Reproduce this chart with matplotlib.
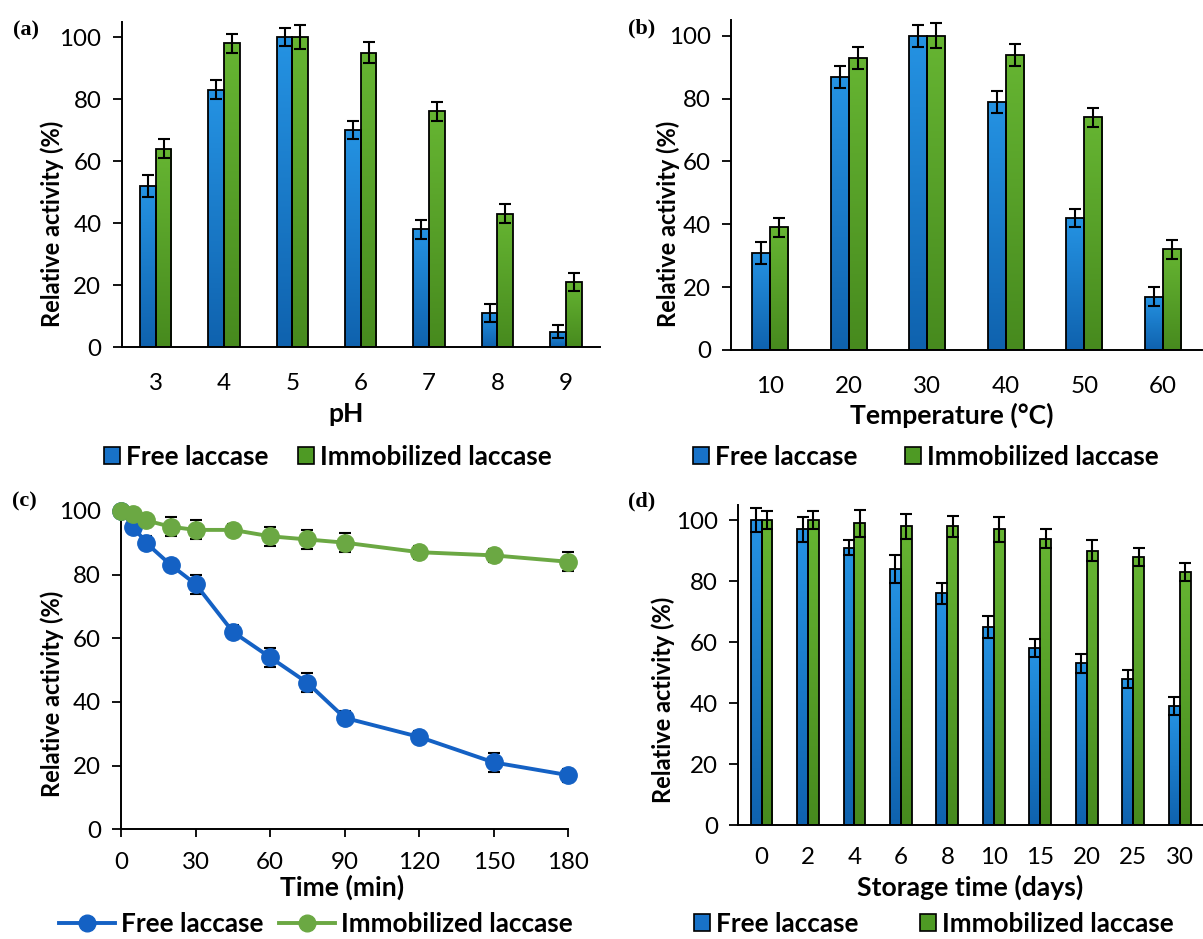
import numpy as np
import matplotlib
matplotlib.use("Agg")
import matplotlib.pyplot as plt
from matplotlib.patches import Patch
from matplotlib.lines import Line2D
from matplotlib.colors import LinearSegmentedColormap

plt.rcParams["font.family"] = ["Lato", "DejaVu Sans"]

# ------------------------------------------------------------
# data
# ------------------------------------------------------------
ph_cats = ["3", "4", "5", "6", "7", "8", "9"]
ph_free = [52, 83, 100, 70, 38, 11, 5]
ph_free_err = [3.5, 3, 3, 3, 3, 3, 2]
ph_imm = [64, 98, 100, 95, 76, 43, 21]
ph_imm_err = [3, 3, 4, 3.5, 3, 3, 3]

temp_cats = ["10", "20", "30", "40", "50", "60"]
temp_free = [31, 87, 100, 79, 42, 17]
temp_free_err = [3.5, 3.5, 3.5, 3.5, 3, 3]
temp_imm = [39, 93, 100, 94, 74, 32]
temp_imm_err = [3, 3.5, 4, 3.5, 3, 3]

time_min = [0, 5, 10, 20, 30, 45, 60, 75, 90, 120, 150, 180]
time_free = [100, 95, 90, 83, 77, 62, 54, 46, 35, 29, 21, 17]
time_free_err = [1, 2, 2, 2, 3, 2, 3, 3, 2, 2, 3, 2]
time_imm = [100, 99, 97, 95, 94, 94, 92, 91, 90, 87, 86, 84]
time_imm_err = [1, 2, 2, 3, 3, 2, 3, 3, 3, 2, 2, 3]

store_cats = ["0", "2", "4", "6", "8", "10", "15", "20", "25", "30"]
store_free = [100, 97, 91, 84, 76, 65, 58, 53, 48, 39]
store_free_err = [4, 4, 2.5, 4.5, 3.5, 3.5, 3, 3, 3, 3]
store_imm = [100, 100, 99, 98, 98, 97, 94, 90, 88, 83]
store_imm_err = [3, 3, 4.5, 4, 3.5, 4, 3, 3.5, 3, 3]

# ------------------------------------------------------------
# style
# ------------------------------------------------------------
W, H = 1203, 939
BLUE_TOP, BLUE_BOT = "#2593E3", "#0F62AE"
GREEN_TOP, GREEN_BOT = "#66B532", "#478A1E"
BLUE_LEG = "#1872C8"
GREEN_LEG = "#4E9A24"
LINE_BLUE = "#1461C4"
LINE_GREEN = "#6BA843"

fig = plt.figure(figsize=(W / 100, H / 100), dpi=100)
renderer = fig.canvas.get_renderer()


def fit_fs(s, target_px, **kw):
    # font size (pt) that makes the string about target_px wide
    t = fig.text(0, 0, s, fontsize=20, **kw)
    w = t.get_window_extent(renderer).width
    t.remove()
    return 20 * target_px / w


TICK_FS = fit_fs("100", 42)
LEG_FS = fit_fs("Immobilized laccase", 232, fontweight="bold")
XLAB_FS = fit_fs("Storage time (days)", 226, fontweight="bold")
YLAB_FS = 0.84 * fit_fs("Relative activity (%)", 246, fontweight="bold")
LEG_PX = LEG_FS * 100 / 72


def add_ax(left, top, right, bottom):
    return fig.add_axes([left / W, 1 - bottom / H, (right - left) / W, (bottom - top) / H])


def fig_text(x, y, s, **kw):
    fig.text(x / W, 1 - y / H, s, **kw)


def xlabel(x, y, s):
    fig_text(x, y, s, fontsize=XLAB_FS, fontweight="bold", ha="center", va="center")


def ylabel(x, y):
    fig_text(x, y, "Relative activity (%)", fontsize=YLAB_FS, fontweight="bold",
             rotation=90, ha="center", va="center")


def style_axes(ax):
    for side in ["top", "right"]:
        ax.spines[side].set_visible(False)
    for side in ["left", "bottom"]:
        ax.spines[side].set_linewidth(1.4)
    ax.tick_params(axis="y", length=6.5, width=1.3, pad=8, labelsize=TICK_FS)


def shade(ax, bars, top, bottom):
    cmap = LinearSegmentedColormap.from_list("shade", [bottom, top])
    grad = np.linspace(0, 1, 128).reshape(-1, 1)
    for b in bars:
        x0, y0 = b.get_xy()
        im = ax.imshow(grad, extent=[x0, x0 + b.get_width(), y0, y0 + b.get_height()],
                       origin="lower", aspect="auto", cmap=cmap, zorder=2.5)
        im.set_clip_path(b)


def bar_panel(ax, cats, free, free_err, imm, imm_err, width=0.23, pad=19):
    x = np.arange(len(cats))
    ekw = dict(ecolor="k", elinewidth=1.5, capsize=4, capthick=1.5, zorder=4)
    b1 = ax.bar(x - width / 2, free, width, facecolor="none", edgecolor="k", linewidth=1.3,
                yerr=free_err, error_kw=ekw, zorder=3)
    b2 = ax.bar(x + width / 2, imm, width, facecolor="none", edgecolor="k", linewidth=1.3,
                yerr=imm_err, error_kw=ekw, zorder=3)
    shade(ax, b1, BLUE_TOP, BLUE_BOT)
    shade(ax, b2, GREEN_TOP, GREEN_BOT)
    ax.set_xlim(-0.5, len(cats) - 0.5)
    ax.set_ylim(0, 105)
    ax.set_yticks(range(0, 101, 20))
    ax.set_xticks(x, cats)
    style_axes(ax)
    ax.tick_params(axis="x", length=0, pad=pad, labelsize=TICK_FS)


def bar_legend(cx, cy, gap):
    handles = [
        Patch(facecolor=BLUE_LEG, edgecolor="k", linewidth=1.2, label="Free laccase"),
        Patch(facecolor=GREEN_LEG, edgecolor="k", linewidth=1.2, label="Immobilized laccase"),
    ]
    fig.legend(handles=handles, loc="center", bbox_to_anchor=(cx / W, 1 - cy / H),
               ncol=2, frameon=False, prop={"weight": "bold", "size": LEG_FS},
               handlelength=16 / LEG_PX, handleheight=16 / LEG_PX,
               handletextpad=6 / LEG_PX, columnspacing=gap / LEG_PX,
               borderaxespad=0, borderpad=0)


# ------------------------------------------------------------
# (a) pH
# ------------------------------------------------------------
ax_a = add_ax(121.5, 21.5, 600, 347)
bar_panel(ax_a, ph_cats, ph_free, ph_free_err, ph_imm, ph_imm_err)
xlabel(346, 414, "pH")
ylabel(52, 224)
bar_legend(328, 457, 30)

# ------------------------------------------------------------
# (b) temperature
# ------------------------------------------------------------
ax_b = add_ax(731, 20, 1202, 350)
bar_panel(ax_b, temp_cats, temp_free, temp_free_err, temp_imm, temp_imm_err)
xlabel(952, 415, "Temperature (°C)")
ylabel(668, 224)
bar_legend(926, 457, 48)

# ------------------------------------------------------------
# (c) thermal stability over time
# ------------------------------------------------------------
ax_c = add_ax(121, 510.8, 568.3, 829.3)
ax_c.errorbar(time_min, time_free, yerr=time_free_err, fmt="none", ecolor="k",
              elinewidth=1.5, capsize=4, capthick=1.5, zorder=2, clip_on=False)
ax_c.errorbar(time_min, time_imm, yerr=time_imm_err, fmt="none", ecolor="k",
              elinewidth=1.5, capsize=4, capthick=1.5, zorder=2, clip_on=False)
ax_c.plot(time_min, time_free, color=LINE_BLUE, marker="o", ms=12.5, lw=2.8,
          zorder=3, clip_on=False)
ax_c.plot(time_min, time_imm, color=LINE_GREEN, marker="o", ms=12.5, lw=2.8,
          zorder=4, clip_on=False)
ax_c.set_xlim(0, 180)
ax_c.set_ylim(0, 100)
ax_c.set_xticks(range(0, 181, 30))
ax_c.set_yticks(range(0, 101, 20))
style_axes(ax_c)
ax_c.tick_params(axis="x", length=5.5, width=1.3, pad=11, labelsize=TICK_FS)
xlabel(342, 887, "Time (min)")
ylabel(52, 694)
line_handles = [
    Line2D([], [], color=LINE_BLUE, marker="o", ms=12, lw=2.8, label="Free laccase"),
    Line2D([], [], color=LINE_GREEN, marker="o", ms=12, lw=2.8, label="Immobilized laccase"),
]
fig.legend(handles=line_handles, loc="center", bbox_to_anchor=(316 / W, 1 - 924 / H),
           ncol=2, frameon=False, prop={"weight": "bold", "size": LEG_FS},
           handlelength=56 / LEG_PX, handletextpad=6 / LEG_PX, columnspacing=16 / LEG_PX,
           borderaxespad=0, borderpad=0)

# ------------------------------------------------------------
# (d) storage stability
# ------------------------------------------------------------
ax_d = add_ax(738.3, 505, 1203, 825)
bar_panel(ax_d, store_cats, store_free, store_free_err, store_imm, store_imm_err,
          width=0.235, pad=16)
xlabel(970, 887, "Storage time (days)")
ylabel(663, 700)
bar_legend(934, 924, 62)

# panel letters
for x, y, s in [(13, 30, "(a)"), (628, 28, "(b)"), (12, 501, "(c)"), (628, 501, "(d)")]:
    fig_text(x, y, s, fontsize=16, fontweight="bold", family="Liberation Serif",
             ha="left", va="center")

fig.savefig("out.png", dpi=100)
